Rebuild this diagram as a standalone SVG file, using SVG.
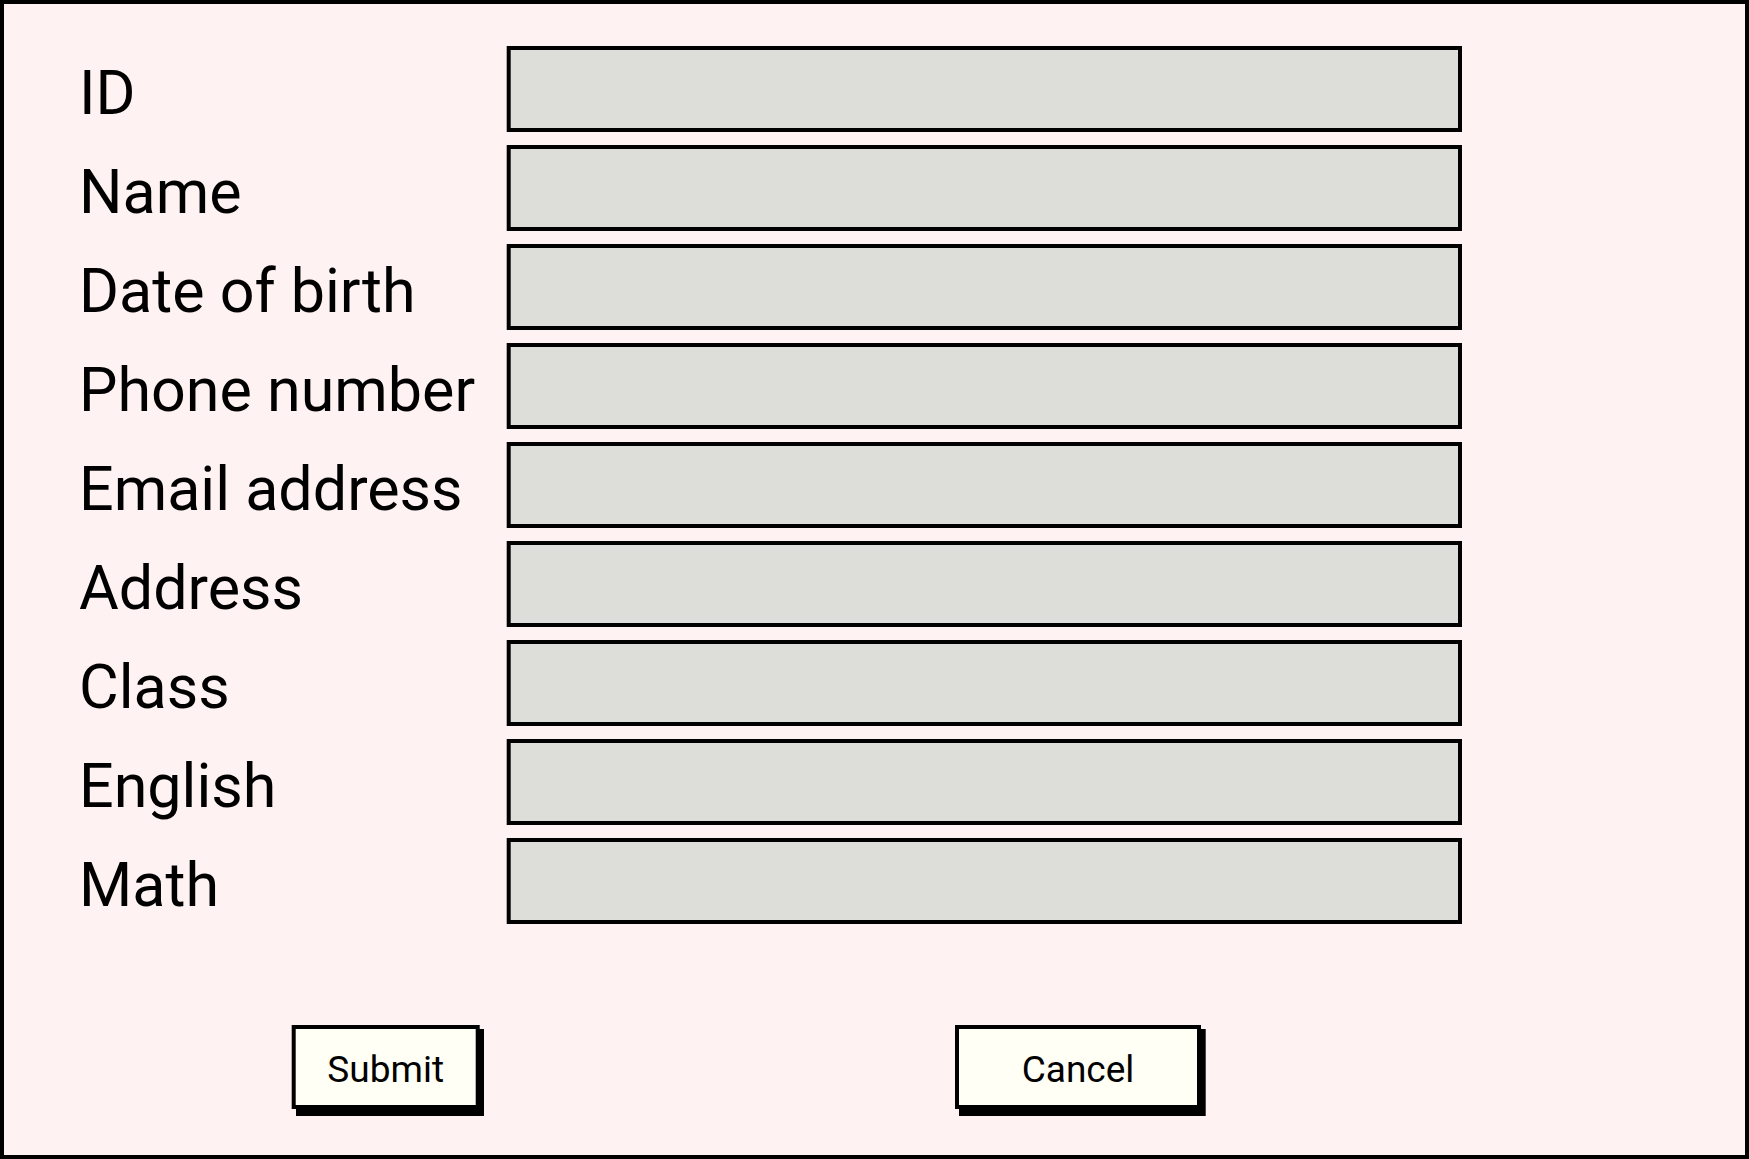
<svg xmlns="http://www.w3.org/2000/svg" width="1749" height="1159" viewBox="0 0 1749 1159">
<style>
.frame{fill:#fff2f2;stroke:#000;stroke-width:4}
.field{fill:#dddeda;stroke:#000;stroke-width:4}
.lbl{font-family:Roboto,"Liberation Sans",sans-serif;font-size:61px;fill:#000}
.btn{fill:#fffff5;stroke:#000;stroke-width:4}
.shadow{fill:#000}
.btxt{font-family:Roboto,"Liberation Sans",sans-serif;font-size:37px;fill:#000;text-anchor:middle}
</style>
<rect class="frame" x="2" y="2" width="1745" height="1155"/>
<g id="row-id"><rect class="field" x="508.7" y="48" width="951.3" height="82"/><text class="lbl" x="79" y="114">ID</text></g>
<g id="row-name"><rect class="field" x="508.7" y="147" width="951.3" height="82"/><text class="lbl" x="79" y="213">Name</text></g>
<g id="row-dob"><rect class="field" x="508.7" y="246" width="951.3" height="82"/><text class="lbl" x="79" y="312">Date of birth</text></g>
<g id="row-phone"><rect class="field" x="508.7" y="345" width="951.3" height="82"/><text class="lbl" x="79" y="411">Phone number</text></g>
<g id="row-email"><rect class="field" x="508.7" y="444" width="951.3" height="82"/><text class="lbl" x="79" y="510">Email address</text></g>
<g id="row-address"><rect class="field" x="508.7" y="543" width="951.3" height="82"/><text class="lbl" x="79" y="609">Address</text></g>
<g id="row-class"><rect class="field" x="508.7" y="642" width="951.3" height="82"/><text class="lbl" x="79" y="708">Class</text></g>
<g id="row-english"><rect class="field" x="508.7" y="741" width="951.3" height="82"/><text class="lbl" x="79" y="807">English</text></g>
<g id="row-math"><rect class="field" x="508.7" y="840" width="951.3" height="82"/><text class="lbl" x="79" y="906">Math</text></g>
<g id="btn-submit">
<rect class="shadow" x="296" y="1029" width="188" height="87"/>
<rect class="btn" x="293.7" y="1027" width="184" height="80"/>
<text class="btxt" x="385.7" y="1082">Submit</text>
</g>
<g id="btn-cancel">
<rect class="shadow" x="959" y="1029" width="246.7" height="87"/>
<rect class="btn" x="957" y="1027" width="242" height="80"/>
<text class="btxt" x="1078" y="1082">Cancel</text>
</g>
<g id="connectors"></g>
</svg>
